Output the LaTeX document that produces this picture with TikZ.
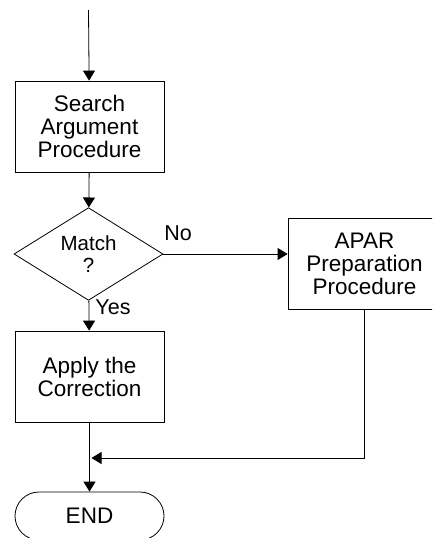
\documentclass[tikz,border=0pt]{standalone}
\usepackage{fontspec}
\setmainfont{Liberation Sans}
\usetikzlibrary{arrows.meta}
\usetikzlibrary{shapes.geometric}
\usetikzlibrary{shapes.misc}

\tikzset{
  procbox/.style={draw, rectangle, minimum width=149pt, minimum height=91pt,
    inner sep=0pt, align=center, font=\fontsize{22.5}{23}\selectfont},
  decision/.style={draw, diamond, minimum width=149pt, minimum height=90pt,
    inner sep=0pt, align=center, font=\fontsize{20.5}{22}\selectfont},
  terminal/.style={draw, rounded rectangle, minimum width=149pt, minimum height=48pt,
    inner sep=0pt, font=\fontsize{22.5}{23}\selectfont},
  branch/.style={font=\fontsize{21.5}{22}\selectfont}
}

\begin{document}
\begin{tikzpicture}[x=1pt, y=-1pt, line width=0.8pt, >={Triangle[length=10pt,width=12pt]}]
        \useasboundingbox (0,0) rectangle (432,538);
        \clip (0,0) rectangle (432,538);

        \coordinate (start) at (88.5,10);
        \node[procbox] (search) at (89.5,126.5) {Search\\Argument\\Procedure};
        \node[decision] (match) at (88.5,254) {Match\\?};
        \node[procbox, minimum width=153pt] (apar) at (364.5,263.5) {APAR\\Preparation\\Procedure};
        \node[procbox] (apply) at (89.5,376.5) {Apply the\\Correction};
        \node[terminal] (stop) at (89.5,516) {END};
        \coordinate (join) at (91.5,458);

        \node[branch] (nolabel) at (178,233) {No};
        \node[branch] (yeslabel) at (113,307) {Yes};

        \draw[->] (start) -- (search);
        \draw[->] (search) -- (match);
        \draw[->] (match.east) -- (match.east -| apar.west);
        \draw[->] (match) -- (apply);
        \draw[->] (apply) -- (stop);
        \draw[->] (apar.south) |- (join);
\end{tikzpicture}
\end{document}
